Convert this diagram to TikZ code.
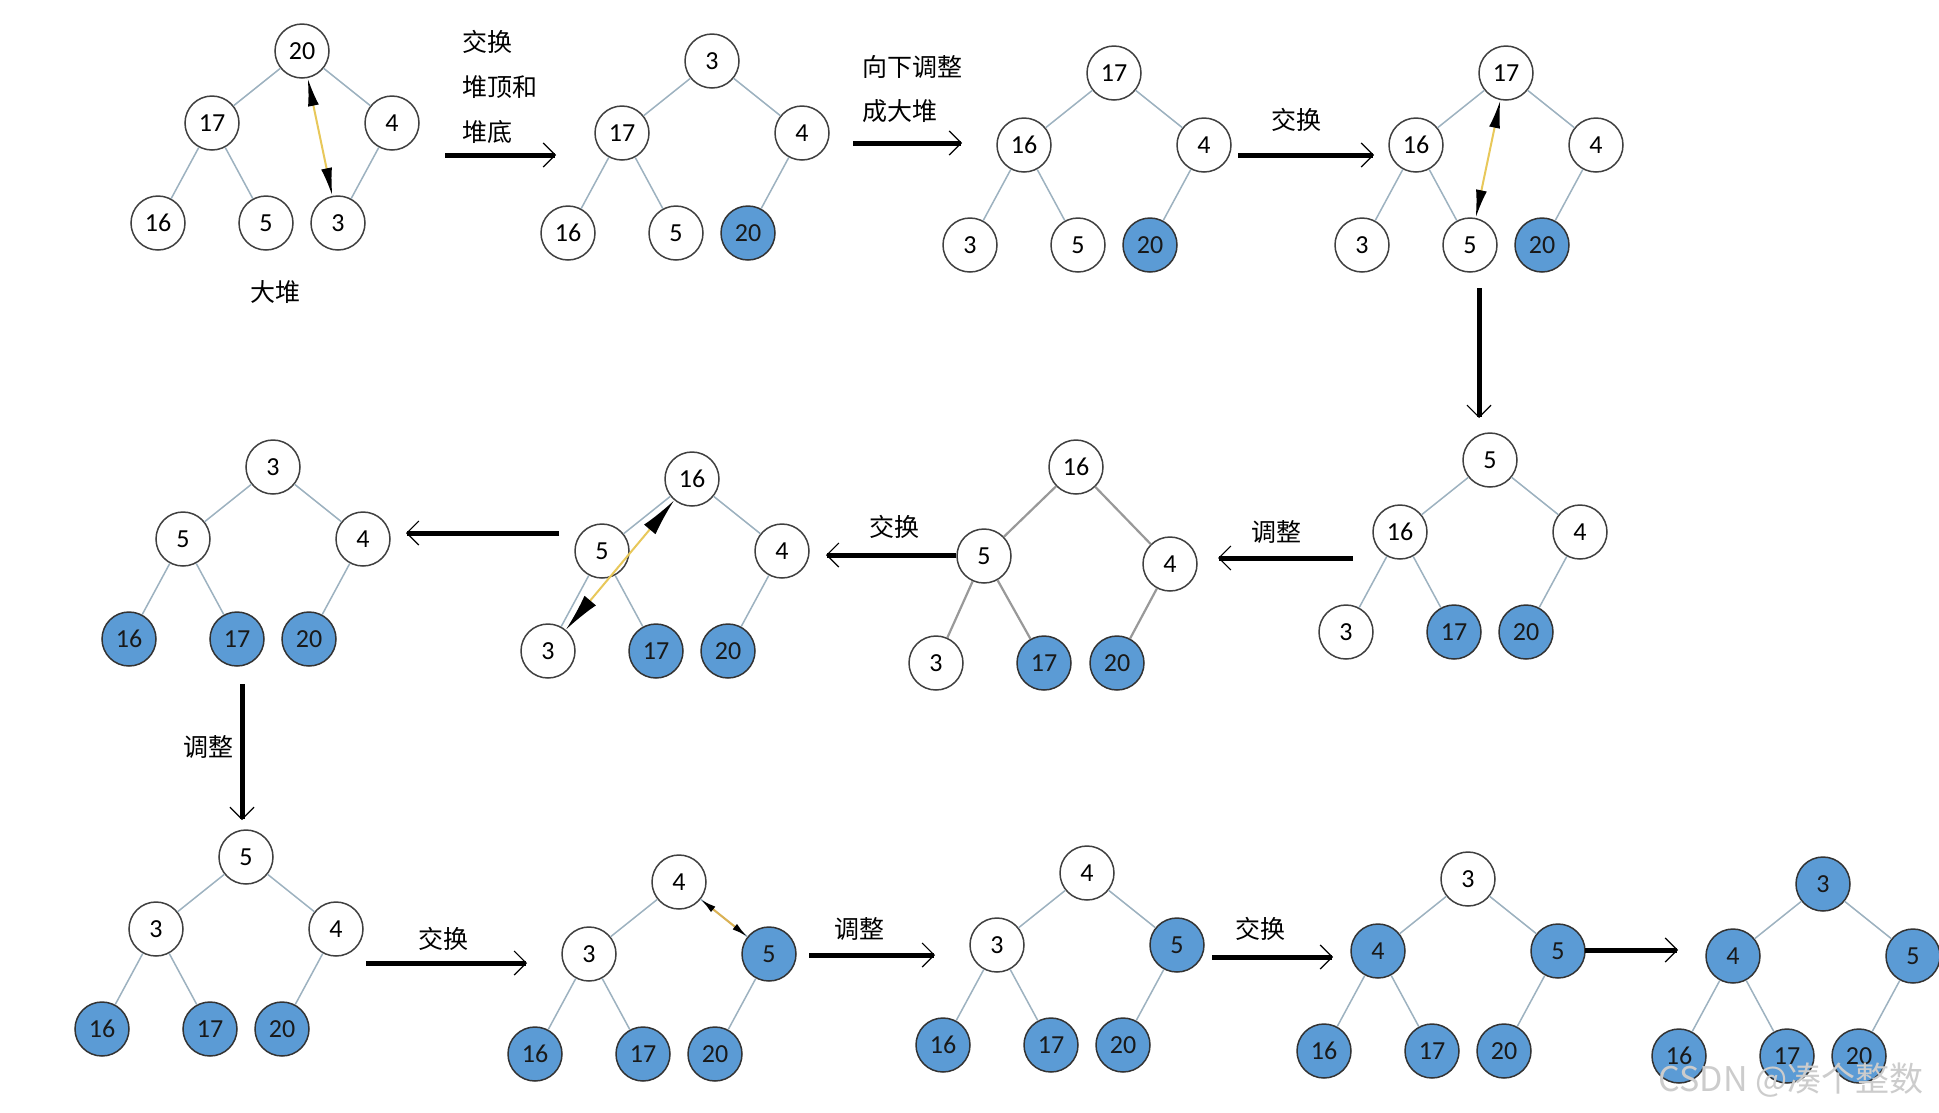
\documentclass[tikz,border=0pt]{standalone}
\usepackage{fontspec}
\setmainfont{Carlito}
\newfontfamily\cjk{Noto Sans CJK SC}
\usetikzlibrary{arrows.meta,calc}
\definecolor{hblue}{HTML}{5B9BD5}
\definecolor{hedge}{HTML}{9DB2C0}
\definecolor{swapc}{HTML}{E8C85A}
\tikzset{
  nd/.style={circle, minimum size=54pt, inner sep=0pt, line width=1.5pt,
    font=\fontsize{26}{28}\selectfont},
  w/.style={nd, draw=black!75, fill=white, node contents={#1}},
  b/.style={nd, draw=black!80, fill=hblue, text=black!90, node contents={#1}},
  edge/.style={draw=hedge, line width=1.5pt},
  flow/.style={line width=5pt, -{Straight Barb[length=12pt,width=24pt,line width=1.2pt]}},
  swap/.style={draw=swapc, line width=2pt,
    {Latex[length=28pt,width=11pt,black]}-{Latex[length=28pt,width=11pt,black]}},
  bigswap/.style={draw=swapc, line width=2pt,
    {Latex[length=38pt,width=15pt,black]}-{Latex[length=38pt,width=15pt,black]}},
  lbl/.style={font=\cjk\fontsize{25}{28}\selectfont, inner sep=0pt},
}
\newcommand{\hptree}[8]{%
  \begin{scope}[shift={(#2)}]
    \node (#1r) at (0,0) [#3];
    \node (#1a) at (-90,72) [#4];
    \node (#1b) at (90,72) [#5];
    \node (#1c) at (-144,172) [#6];
    \node (#1d) at (-36,172) [#7];
    \node (#1e) at (36,172) [#8];
  \end{scope}
}
\newcommand{\hpedges}[1]{%
  \draw[edge] (#1r)--(#1a) (#1r)--(#1b) (#1a)--(#1c) (#1a)--(#1d) (#1b)--(#1e);
}
\begin{document}
\begin{tikzpicture}[x=1pt,y=-1pt]
\useasboundingbox[fill=white] (0,0) rectangle (1939,1112);

% Row 1
\hptree{A}{302,51}{w=20}{w=17}{w=4}{w=16}{w=5}{w=3}\hpedges{A}
\hptree{B}{712,61}{w=3}{w=17}{w=4}{w=16}{w=5}{b=20}\hpedges{B}
\hptree{C}{1114,73}{w=17}{w=16}{w=4}{w=3}{w=5}{b=20}\hpedges{C}
\hptree{D}{1506,73}{w=17}{w=16}{w=4}{w=3}{w=5}{b=20}\hpedges{D}
\node[lbl] (big) at (275,292) {大堆};

% Row 2
\hptree{E}{1490,460}{w=5}{w=16}{w=4}{w=3}{b=17}{b=20}\hpedges{E}
% tree F (stretched)
\node (Fr) at (1076,467) [w=16];
\node (Fa) at (984,556) [w=5];
\node (Fb) at (1170,564) [w=4];
\node (Fc) at (936,663) [w=3];
\node (Fd) at (1044,663) [b=17];
\node (Fe) at (1117,663) [b=20];
\draw[edge, draw=black!40, line width=2.2pt] (Fr)--(Fa) (Fr)--(Fb) (Fa)--(Fc) (Fa)--(Fd) (Fb)--(Fe);
\hptree{G}{692,479}{w=16}{w=5}{w=4}{w=3}{b=17}{b=20}\hpedges{G}
\hptree{H}{273,467}{w=3}{w=5}{w=4}{b=16}{b=17}{b=20}\hpedges{H}

% Row 3
\hptree{I}{246,857}{w=5}{w=3}{w=4}{b=16}{b=17}{b=20}\hpedges{I}
\hptree{J}{679,882}{w=4}{w=3}{b=5}{b=16}{b=17}{b=20}\hpedges{J}
\hptree{K}{1087,873}{w=4}{w=3}{b=5}{b=16}{b=17}{b=20}\hpedges{K}
\hptree{L}{1468,879}{w=3}{b=4}{b=5}{b=16}{b=17}{b=20}\hpedges{L}
\hptree{M}{1823,884}{b=3}{b=4}{b=5}{b=16}{b=17}{b=20}\hpedges{M}

% swap markers
\draw[swap] (Ar) -- (Ae);
\draw[swap] (Dr) -- (Dd);
\draw[bigswap] (Gr) -- (Gc);
\draw[swap, draw=swapc!70!brown,
  {Latex[length=16pt,width=7pt,black]}-{Latex[length=16pt,width=7pt,black]}] (Jr) -- (Jb);

% flow arrows
\coordinate (a1s) at (445,155); \coordinate (a1e) at (556,155);
\coordinate (a2s) at (853,143); \coordinate (a2e) at (962,143);
\coordinate (a3s) at (1238,155); \coordinate (a3e) at (1374,155);
\coordinate (a4s) at (1479,288); \coordinate (a4e) at (1479,418);
\coordinate (a5s) at (1353,558); \coordinate (a5e) at (1218,558);
\coordinate (a6s) at (956,555); \coordinate (a6e) at (826,555);
\coordinate (a7s) at (559,533); \coordinate (a7e) at (406,533);
\coordinate (a8s) at (242,684); \coordinate (a8e) at (242,820);
\coordinate (a9s) at (366,963); \coordinate (a9e) at (527,963);
\coordinate (a10s) at (809,955); \coordinate (a10e) at (935,955);
\coordinate (a11s) at (1212,957); \coordinate (a11e) at (1333,957);
\coordinate (a12s) at (1585,950); \coordinate (a12e) at (1678,950);
\foreach \i in {1,...,12}{\draw[flow] (a\i s) -- (a\i e);}

% labels
\node[lbl, anchor=west] (t1a) at (462,42) {交换};
\node[lbl, anchor=west] (t1b) at (462,87) {堆顶和};
\node[lbl, anchor=west] (t1c) at (462,132) {堆底};
\node[lbl, anchor=west] (t2a) at (862,67) {向下调整};
\node[lbl, anchor=west] (t2b) at (862,111) {成大堆};
\node[lbl] (t3) at (1296,120) {交换};
\node[lbl] (t5) at (1276,532) {调整};
\node[lbl] (t6) at (894,527) {交换};
\node[lbl] (t8) at (208,747) {调整};
\node[lbl] (t9) at (443,939) {交换};
\node[lbl] (t10) at (859,929) {调整};
\node[lbl] (t11) at (1260,929) {交换};

% watermark (drawn over the last tree, as in the reference)
\node[font=\cjk\fontsize{34}{36}\selectfont, text=black!20, inner sep=0pt] (wm) at (1791,1080) {CSDN @凑个整数};
\end{tikzpicture}
\end{document}
